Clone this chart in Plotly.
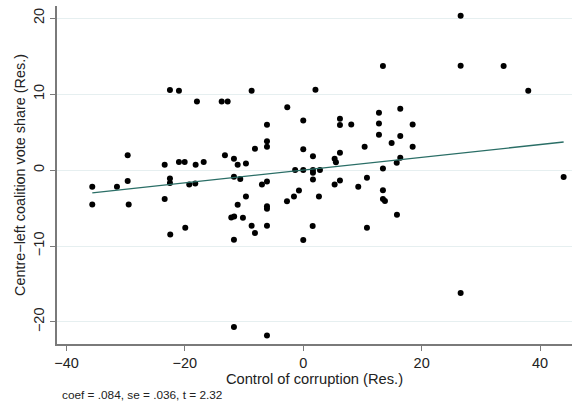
import plotly.graph_objects as go

# Residualised data (added-variable plot)
corruption_res = [
    -35.64, -31.47, -29.66, -29.66, -23.41, -22.52, -21.00, -22.52, -22.52, -21.00,
    -20.03, -19.26, -18.24, -18.18, -17.96, -16.82, -13.78, -12.77, -13.23, -11.71,
    -11.08, -11.71, -10.64, -9.68, -9.68, -8.72, -8.16, -6.98, -6.13, -6.13,
    -6.13, -6.13, -2.70, -23.41, -2.75, 26.59, 26.59, 13.46, 33.85, 2.06,
    38.01, 0.00, 6.20, 6.20, 8.11, 12.79, 12.79, 16.39, 18.48, 12.79,
    16.39, 14.93, 18.48, 10.37, 0.00, 1.64, 6.20, 5.30, 5.52, 16.39,
    15.79, -1.37, 0.00, 1.64, 1.64, 2.82, 13.46, 1.64, 6.20, 5.30,
    10.76, 9.29, 13.46, -0.73, -1.57, 2.65, 43.99, -35.64, -29.49, -22.47,
    -19.93, -11.71, -12.16, -11.67, -11.08, -10.19, -8.72, -8.16, -6.13, -6.13,
    -6.13, -11.71, -6.13, 13.46, 13.80, 15.83, 10.76, 1.59, 0.00, 26.59,
]
vote_res = [
    -2.20, -2.20, -1.45, 1.94, 0.70, 10.54, 10.45, -1.12, -1.71, 1.05,
    1.05, -1.91, -1.78, 0.70, 9.02, 1.05, 9.02, 9.02, 1.94, 1.49,
    0.70, -0.88, -1.19, 0.88, -3.47, 10.45, 2.79, -1.91, 5.97, 3.79,
    3.07, -1.52, 8.26, -3.82, -4.11, 20.33, 13.74, 13.70, 13.70, 10.58,
    10.45, 6.52, 6.76, 5.93, 5.99, 7.55, 6.13, 8.06, 5.99, 4.65,
    4.48, 3.56, 3.07, 3.07, 2.74, 1.82, 2.28, 1.49, 1.03, 1.62,
    0.96, 0.00, 0.00, 0.00, -0.36, 0.00, 0.20, -1.23, -1.38, -1.91,
    -1.01, -2.20, -2.67, -2.70, -3.47, -3.47, -0.92, -4.52, -4.52, -8.50,
    -7.60, -9.18, -6.23, -6.13, -4.57, -6.28, -7.34, -8.27, -4.77, -5.10,
    -7.34, -20.65, -21.78, -3.82, -4.08, -5.89, -7.60, -7.35, -9.22, -16.17,
]

coef = 0.084
intercept = 0.0
x_ticks = [-40, -20, 0, 20, 40]
y_ticks = [-20, -10, 0, 10, 20]
note = "coef = .084, se = .036, t = 2.32"

def fmt(v):
    return ("\u2212" + str(abs(v))) if v < 0 else str(v)

fit_x = [min(corruption_res), max(corruption_res)]
fit_y = [intercept + coef * v for v in fit_x]

fig = go.Figure()
fig.add_trace(go.Scatter(
    x=corruption_res, y=vote_res, mode="markers",
    marker=dict(color="black", size=6, line=dict(width=0)),
    showlegend=False, cliponaxis=False,
))
fig.add_trace(go.Scatter(
    x=fit_x, y=fit_y, mode="lines",
    line=dict(color="#2a6e66", width=1.3),
    showlegend=False,
))

font_family = "Liberation Sans, Arial, Helvetica, sans-serif"
fig.update_layout(
    width=572, height=405,
    margin=dict(l=57, r=0, t=6, b=61),
    paper_bgcolor="white", plot_bgcolor="white",
    font=dict(family=font_family, size=14, color="#222"),
    xaxis=dict(
        range=[-41.6, 45.4], tickmode="array", tickvals=x_ticks,
        ticktext=[fmt(v) for v in x_ticks],
        showgrid=False, zeroline=False,
        showline=True, linecolor="#7a7a7a", linewidth=1.6,
        ticks="outside", ticklen=5, tickcolor="#7a7a7a", tickwidth=1,
        tickfont=dict(size=14.5, color="#222"),
        title=dict(text="Control of corruption (Res.)", font=dict(size=14.7, color="#222"), standoff=2),
    ),
    yaxis=dict(
        range=[-22.9, 21.6], tickmode="array", tickvals=y_ticks,
        ticktext=[fmt(v) for v in y_ticks], tickangle=-90,
        showgrid=True, gridcolor="#e6eff0", gridwidth=1, zeroline=False,
        showline=True, linecolor="#7a7a7a", linewidth=1.6,
        ticks="outside", ticklen=5, tickcolor="#7a7a7a", tickwidth=1,
        tickfont=dict(size=14.5, color="#222"),
        title=dict(text="Centre\u2212left coalition vote share (Res.)", font=dict(size=14.4, color="#222"), standoff=2),
    ),
    annotations=[dict(
        text=note, xref="paper", yref="paper", x=0, y=0,
        xanchor="left", yanchor="middle", xshift=3, yshift=-51,
        showarrow=False, font=dict(size=11.8, color="#222"),
    )],
)

fig.write_html("out.html")
